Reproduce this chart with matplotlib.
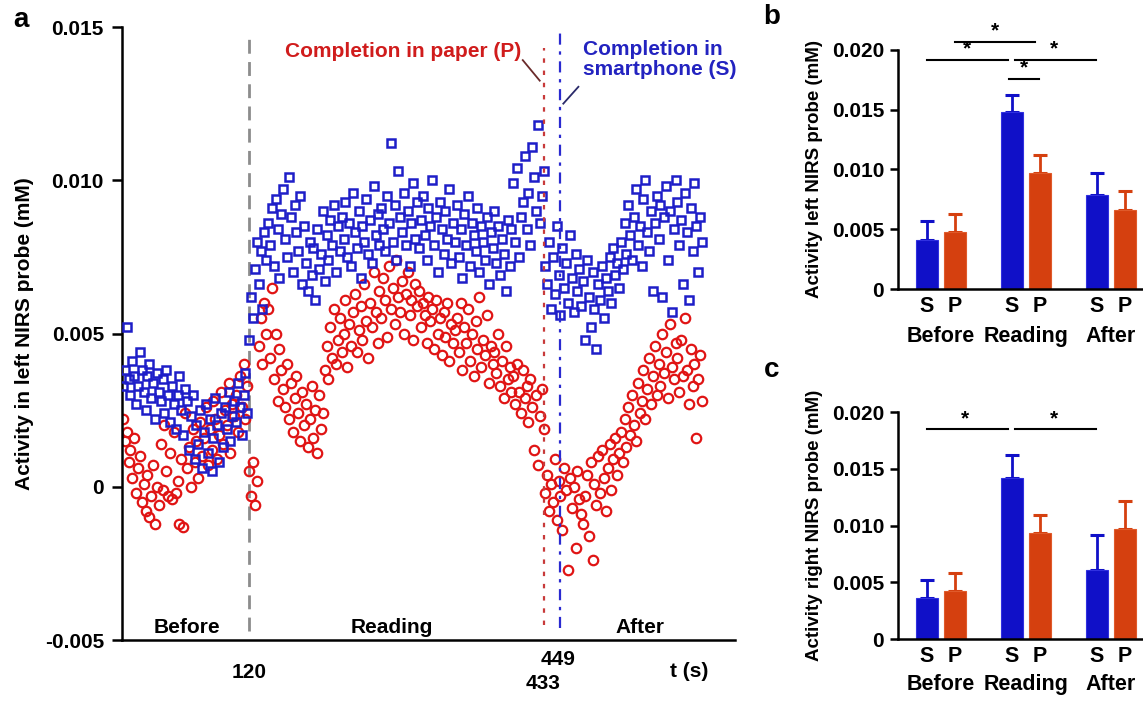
import numpy as np
import matplotlib
matplotlib.use('Agg')
import matplotlib.pyplot as plt

plt.rcParams['font.family'] = ['Liberation Sans', 'DejaVu Sans']
plt.rcParams['font.weight'] = 'bold'

# panel a: activity every 2 s, values in units of 1e-4 mM
t_start = -14
t_step = 2
smartphone = [
    33, 38, 52, 35, 30, 41, 36, 27, 33, 44, 38, 31, 25, 36, 40, 29, 34, 22, 37, 31,
    28, 35, 24, 38, 30, 21, 33, 27, 19, 30, 36, 25, 17, 32, 28, 12, 23, 30, 9, 20,
    14, 25, 6, 18, 27, 11, 22, 5, 16, 29, 20, 8, 24, 13, 26, 19, 31, 15, 23, 28,
    21, 34, 26, 17, 30, 37, 24,
    48, 62, 55, 71, 80, 66, 77, 58, 83, 74,
    86, 79, 91, 72, 94, 84, 68, 89, 97, 81, 75, 101, 88, 70, 92, 83, 77, 95, 66, 85,
    73, 64, 80, 69, 78, 61, 84, 71, 76, 90, 67, 82, 74, 87, 79, 92, 70, 85, 77, 88,
    81, 93, 75, 86, 72, 96, 83, 78, 90, 68, 85, 80, 94, 76, 87, 73, 98, 82, 89, 79,
    91, 84, 77, 95, 86, 112, 80, 92, 74, 103, 88, 83, 96, 79, 90, 72, 86, 99, 81, 93,
    78, 87, 95, 82, 74, 91, 85, 100, 79, 88, 70, 93, 84, 76, 90, 81, 97, 73, 86, 80,
    92, 75, 84, 68, 89, 79, 95, 72, 86, 82, 77, 91, 70, 85, 80, 74, 88, 66, 83, 78,
    90, 73, 85, 69, 81, 76, 64, 87, 72, 84,
    99, 80, 104, 75, 88, 93, 108, 84, 96, 79, 111, 101, 90, 118, 86, 95, 103,
    72, 66, 80, 58, 75, 63, 85, 69, 56, 78, 65, 73, 60, 82, 68, 57, 76, 64, 71, 59,
    67, 48, 74, 62, 52, 70, 58, 45, 66, 61, 72, 55, 68, 64, 75, 60, 78, 69, 73, 65,
    80, 71, 86, 76, 92, 82, 74, 88, 97, 79, 85, 72, 94, 100, 83, 77, 90, 64, 86, 95,
    81, 92, 62, 88, 98, 74, 90, 57, 84, 100,
    93, 79, 87, 66, 96, 83, 61, 91, 77, 99, 85, 70, 88, 80,
]
paper = [
    22, 15, 18, 8, 12, 3, 16, -2, 6, 10, -5, 1, -8, 4, -10, -3, 7, -12, 0, -6,
    14, -1, 20, 5, -3, 11, -4, 18, -2, 2, -12, 9, -13, 24, 6, 13, 0, 19, 8, 15,
    3, 21, 10, 16, 26, 7, 19, 12, 28, 22, 9, 17, 31, 14, 25, 20, 34, 11, 27, 23,
    30, 18, 36, 26, 40, 22, 33,
    5, -3, 8, -6, 2, 46, 55, 40, 60, 50,
    58, 42, 65, 35, 50, 28, 45, 38, 32, 26, 40, 22, 34, 18, 29, 36, 24, 15, 31, 20,
    27, 13, 22, 33, 16, 25, 11, 30, 19, 24, 38, 46, 35, 52, 42, 58, 40, 48, 55, 44,
    50, 61, 39, 53, 46, 57, 63, 44, 51, 59, 48, 66, 54, 42, 60, 52, 70, 57, 47, 64,
    55, 68, 61, 49, 72, 58, 65, 53, 74, 62, 57, 67, 50, 63, 70, 56, 61, 48, 66, 59,
    64, 52, 60, 56, 47, 62, 54, 58, 45, 61, 50, 55, 43, 57, 49, 60, 41, 53, 47, 51,
    55, 44, 60, 38, 52, 47, 58, 41, 50, 36, 54, 45, 62, 39, 48, 43, 56, 34, 46, 40,
    44, 37, 50, 33, 41, 29, 46, 35, 39, 31,
    36, 27, 40, 31, 24, 38, 29, 33, 21, 35, 26, 12, 30, 7, 23, 32, 19,
    -2, 4, -8, 1, -5, 9, -11, 2, -3, -14, 6, -1, -27, 3, -7, 0, -20, 5, -4, -9,
    -12, -3, 4, -16, 8, -24, 1, -6, 10, -2, 12, 3, -8, 6, 14, -1, 9, 16, 4, 11,
    18, 8, 22, 13, 26, 17, 30, 20, 15, 34, 24, 28, 38, 22, 32, 42, 27, 36, 46, 30,
    40, 33, 50, 37, 44, 29, 53, 39, 35, 47,
    42, 31, 48, 36, 55, 38, 27, 45, 33, 40, 16, 35, 43, 28,
]
t_reading = 120
t_done_paper = 433
t_done_phone = 449

# panels b and c: mean and upper error (mM)
groups = ['Before', 'Reading', 'After']
left_S = [0.0041, 0.0148, 0.0079]
left_S_err = [0.0016, 0.0014, 0.0018]
left_P = [0.0048, 0.0097, 0.0066]
left_P_err = [0.0015, 0.0015, 0.0016]
right_S = [0.0036, 0.0142, 0.0061]
right_S_err = [0.0016, 0.0020, 0.0031]
right_P = [0.0042, 0.0093, 0.0097]
right_P_err = [0.0016, 0.0016, 0.0025]

blue = '#1e1ec8'
red = '#e01414'
bar_blue = '#1010c8'
bar_red = '#d5400f'
fs = 15

fig = plt.figure(figsize=(11.43, 7.02), dpi=100)

# ---------------- panel a ----------------
ax = fig.add_axes([0.1067, 0.0883, 0.5363, 0.8732])
ts = t_start + t_step * np.arange(len(smartphone))
tp = t_start + t_step * np.arange(len(paper))
ax.plot(ts, np.array(smartphone) * 1e-4, 's', ms=5.8, mfc='none', mec=blue, mew=1.8, zorder=3)
ax.plot(tp, np.array(paper) * 1e-4, 'o', ms=6.8, mfc='none', mec=red, mew=1.6, zorder=2)

ax.set_xlim(-15, 635)
ax.set_ylim(-0.005, 0.015)
ax.set_yticks([-0.005, 0, 0.005, 0.010, 0.015])
ax.set_yticklabels(['-0.005', '0', '0.005', '0.010', '0.015'])
ax.set_xticks([])
for s in ['top', 'right']:
    ax.spines[s].set_visible(False)
for s in ['left', 'bottom']:
    ax.spines[s].set_linewidth(1.8)
ax.tick_params(axis='y', direction='out', length=7, width=1.8, labelsize=fs, pad=6)
ax.set_ylabel('Activity in left NIRS probe (mM)', fontsize=fs, fontweight='bold', labelpad=8)

ax.plot([t_reading, t_reading], [-0.0047, 0.0148], color='#8c8c8c', lw=2, ls=(0, (5, 3)), zorder=1)
ax.plot([t_done_paper, t_done_paper], [-0.0045, 0.0143], color='#c83a3a', lw=1.6, ls=(0, (2, 3.5)), zorder=4)
ax.plot([t_done_phone, t_done_phone], [-0.0046, 0.0150], color='#2a2ad0', lw=1.6, ls=(0, (5, 3, 1.5, 3)), zorder=4)

ax.text(408, 0.0142, 'Completion in paper (P)', color='#d01c1c', fontsize=fs, fontweight='bold', ha='right', va='center')
ax.plot([410, 428], [0.01392, 0.01325], color='#6a2a2a', lw=1.3)
ax.text(474, 0.01395, 'Completion in\nsmartphone (S)', color='#2323c0', fontsize=fs, fontweight='bold',
        ha='left', va='center', linespacing=1.05)
ax.plot([469, 453], [0.01305, 0.0125], color='#2a2a6a', lw=1.3)

for x, lab in [(54, 'Before'), (271, 'Reading'), (534, 'After')]:
    ax.text(x, -0.00458, lab, fontsize=fs, fontweight='bold', ha='center', va='center')
ax.text(t_reading, -0.00605, '120', fontsize=fs, fontweight='bold', ha='center', va='center', clip_on=False)
ax.text(t_done_phone - 2, -0.00565, '449', fontsize=fs, fontweight='bold', ha='center', va='center', clip_on=False)
ax.text(t_done_paper - 2, -0.00642, '433', fontsize=fs, fontweight='bold', ha='center', va='center', clip_on=False)
ax.text(587, -0.00603, 't (s)', fontsize=fs, fontweight='bold', ha='center', va='center', clip_on=False)
fig.text(0.012, 0.972, 'a', fontsize=20, fontweight='bold', va='center')


# ---------------- panels b and c ----------------
def bar_panel(rect, s_vals, s_err, p_vals, p_err, ylabel, sig_lines, letter, letter_y):
    bx = fig.add_axes(rect)
    xs = np.array([0.0, 3.0, 6.0])
    xp = xs + 0.98
    w = 0.78
    bx.bar(xs, s_vals, w, color=bar_blue, edgecolor='#3030e0', lw=0.8, zorder=2)
    bx.bar(xp, p_vals, w, color=bar_red, edgecolor='#e05a2a', lw=0.8, zorder=2)
    bx.errorbar(xs, s_vals, yerr=[np.zeros(3), s_err], fmt='none', ecolor=bar_blue,
                elinewidth=2, capsize=5, capthick=2.2, zorder=1)
    bx.errorbar(xp, p_vals, yerr=[np.zeros(3), p_err], fmt='none', ecolor=bar_red,
                elinewidth=2, capsize=5, capthick=2.2, zorder=1)
    bx.set_xlim(-1.02, 7.63)
    bx.set_ylim(0, 0.020)
    bx.set_yticks([0, 0.005, 0.010, 0.015, 0.020])
    bx.set_yticklabels(['0', '0.005', '0.010', '0.015', '0.020'])
    ticks = np.concatenate([xs, xp])
    bx.set_xticks(ticks)
    bx.set_xticklabels(['S'] * 3 + ['P'] * 3)
    bx.tick_params(axis='x', length=0, labelsize=fs + 0.5, pad=5)
    bx.tick_params(axis='y', direction='out', length=6, width=1.8, labelsize=fs, pad=4)
    for s in ['top', 'right']:
        bx.spines[s].set_visible(False)
    for s in ['left', 'bottom']:
        bx.spines[s].set_linewidth(1.8)
    bx.set_ylabel(ylabel, fontsize=13.5, fontweight='bold', labelpad=6)
    for g, xc in zip(groups, xs + 0.49):
        bx.text(xc, -0.0040, g, fontsize=fs + 0.5, fontweight='bold', ha='center', va='center',
                transform=bx.transData, clip_on=False)
    for x0, x1, y, xstar in sig_lines:
        bx.plot([x0, x1], [y, y], color='black', lw=1.5, clip_on=False)
        bx.text(xstar, y + 0.0001, '*', fontsize=15, fontweight='bold', ha='center', va='bottom', clip_on=False)
    fig.text(0.668, letter_y, letter, fontsize=20, fontweight='bold', va='center')
    return bx


sig_b = [(0.0, 2.85, 0.0192, 1.42), (0.98, 3.82, 0.0207, 2.4),
         (3.1, 5.98, 0.0192, 4.5), (2.9, 3.95, 0.0176, 3.42)]
sig_c = [(0.0, 2.85, 0.0185, 1.34), (3.1, 5.98, 0.0185, 4.5)]

bar_panel([0.7857, 0.5883, 0.2143, 0.3405], left_S, left_S_err, left_P, left_P_err,
          'Activity left NIRS probe (mM)', sig_b, 'b', 0.976)
bar_panel([0.7857, 0.0897, 0.2143, 0.3234], right_S, right_S_err, right_P, right_P_err,
          'Activity right NIRS probe (mM)', sig_c, 'c', 0.473)

fig.savefig('out.png', dpi=100)
